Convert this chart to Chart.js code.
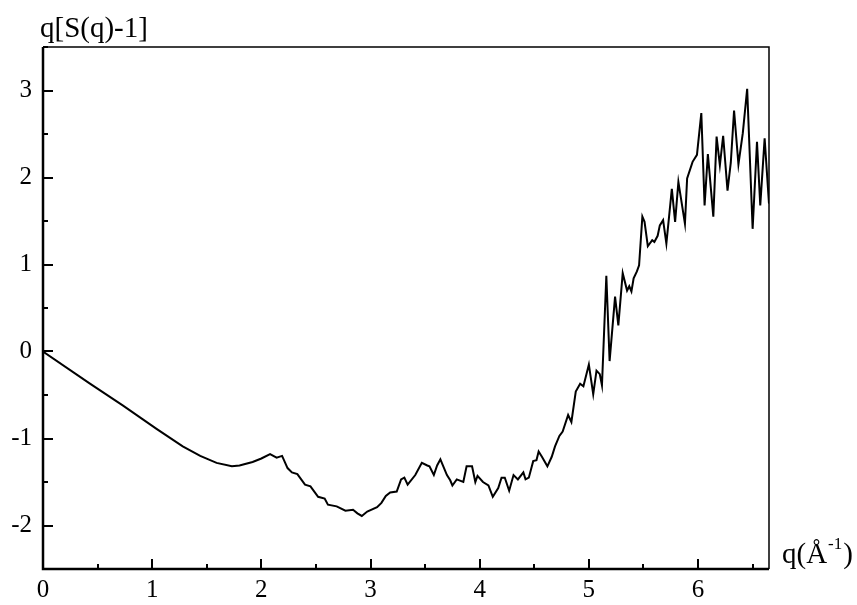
<!DOCTYPE html>
<html>
<head>
<meta charset="utf-8">
<script src="https://cdn.jsdelivr.net/npm/chart.js@4/dist/chart.umd.min.js"></script>
<style>
  body { margin: 0; background: #fff; }
  #wrap { width: 857px; height: 605px; }
</style>
</head>
<body>
<div id="wrap"><canvas id="c" width="857" height="605"></canvas></div>
<script>
const qValues = [
  0, 0.43, 0.73, 1.04, 1.28, 1.44, 1.59, 1.73, 1.80, 1.92,
  2.00, 2.08, 2.14, 2.19, 2.24, 2.28, 2.33, 2.40, 2.45, 2.52,
  2.58, 2.61, 2.69, 2.77, 2.84, 2.88, 2.92, 2.97, 3.06, 3.10,
  3.14, 3.18, 3.24, 3.28, 3.31, 3.34, 3.41, 3.47, 3.52, 3.54,
  3.58, 3.61, 3.64, 3.66, 3.70, 3.73, 3.75, 3.79, 3.85, 3.88,
  3.93, 3.96, 3.98, 4.03, 4.08, 4.12, 4.17, 4.20, 4.23, 4.27,
  4.31, 4.35, 4.40, 4.42, 4.45, 4.49, 4.52, 4.54, 4.57, 4.62,
  4.66, 4.69, 4.73, 4.76, 4.81, 4.84, 4.88, 4.92, 4.95, 5.00,
  5.04, 5.07, 5.10, 5.12, 5.16, 5.19, 5.24, 5.27, 5.31, 5.35,
  5.37, 5.39, 5.41, 5.44, 5.46, 5.49, 5.51, 5.54, 5.58, 5.60,
  5.63, 5.65, 5.68, 5.71, 5.76, 5.79, 5.82, 5.88, 5.90, 5.95,
  5.99, 6.03, 6.06, 6.09, 6.14, 6.17, 6.20, 6.23, 6.27, 6.30,
  6.33, 6.37, 6.41, 6.45, 6.50, 6.54, 6.57, 6.61, 6.65
]
const sValues = [
  0.00, -0.37, -0.62, -0.89, -1.09, -1.20, -1.28, -1.32, -1.31, -1.27,
  -1.23, -1.18, -1.22, -1.20, -1.34, -1.39, -1.41, -1.53, -1.55, -1.67,
  -1.69, -1.76, -1.78, -1.83, -1.82, -1.86, -1.89, -1.84, -1.79, -1.74,
  -1.66, -1.62, -1.61, -1.47, -1.45, -1.53, -1.42, -1.28, -1.31, -1.32,
  -1.42, -1.31, -1.24, -1.30, -1.42, -1.48, -1.54, -1.47, -1.50, -1.32,
  -1.32, -1.50, -1.43, -1.50, -1.54, -1.67, -1.57, -1.45, -1.45, -1.60,
  -1.42, -1.47, -1.39, -1.47, -1.45, -1.26, -1.25, -1.15, -1.21, -1.32,
  -1.21, -1.09, -0.97, -0.92, -0.73, -0.81, -0.46, -0.37, -0.40, -0.15,
  -0.49, -0.22, -0.26, -0.39, 0.87, -0.11, 0.63, 0.30, 0.90, 0.70,
  0.75, 0.69, 0.84, 0.92, 0.99, 1.55, 1.49, 1.21, 1.28, 1.26,
  1.33, 1.45, 1.51, 1.24, 1.87, 1.49, 1.95, 1.47, 1.99, 2.18,
  2.26, 2.74, 1.68, 2.27, 1.55, 2.47, 2.14, 2.48, 1.85, 2.17,
  2.77, 2.15, 2.51, 3.02, 1.41, 2.41, 1.68, 2.45, 1.70
]
const xTickLabels = ['0', '1', '2', '3', '4', '5', '6']
const yTickLabels = ['-2', '-1', '0', '1', '2', '3']
const yTitle = 'q[S(q)-1]'
const xTitle = 'q(Å'

const serif = '"Liberation Serif", "DejaVu Serif", serif'

const points = qValues.map((q, i) => ({ x: q, y: sValues[i] }))

const isWhole = (v) => Math.abs(v - Math.round(v)) < 1e-6

// inward ticks, frame and axis titles
const framePlugin = {
  id: 'frame',
  afterDraw(chart) {
    const ctx = chart.ctx
    const area = chart.chartArea
    const xs = chart.scales.x
    const ys = chart.scales.y
    ctx.save()
    ctx.strokeStyle = '#000'

    // frame
    ctx.lineWidth = 1.5
    ctx.beginPath()
    ctx.moveTo(area.left, area.top)
    ctx.lineTo(area.right, area.top)
    ctx.lineTo(area.right, area.bottom)
    ctx.stroke()
    ctx.lineWidth = 2.5
    ctx.beginPath()
    ctx.moveTo(area.left, area.top)
    ctx.lineTo(area.left, area.bottom)
    ctx.lineTo(area.right, area.bottom)
    ctx.stroke()

    // ticks pointing inward
    ctx.lineWidth = 2
    ctx.beginPath()
    xs.ticks.forEach(t => {
      const px = Math.round(xs.getPixelForValue(t.value))
      const len = isWhole(t.value) ? 10 : 5
      ctx.moveTo(px, area.bottom)
      ctx.lineTo(px, area.bottom - len)
    })
    ys.ticks.forEach(t => {
      const py = Math.round(ys.getPixelForValue(t.value))
      const len = isWhole(t.value) ? 10 : 5
      ctx.moveTo(area.left, py)
      ctx.lineTo(area.left + len, py)
    })
    ctx.stroke()

    // titles
    ctx.fillStyle = '#000'
    ctx.textBaseline = 'alphabetic'
    ctx.textAlign = 'left'
    ctx.font = '29px ' + serif
    ctx.fillText(yTitle, 40, 37)
    const xLeft = area.right + 13
    const base = area.bottom - 6
    ctx.fillText(xTitle, xLeft, base)
    let w = ctx.measureText(xTitle).width
    ctx.font = '17px ' + serif
    ctx.fillText('-1', xLeft + w + 1, base - 14)
    const w2 = ctx.measureText('-1').width
    ctx.font = '29px ' + serif
    ctx.fillText(')', xLeft + w + w2 + 2, base)
    ctx.restore()
  }
}

new Chart(document.getElementById('c'), {
  type: 'scatter',
  data: {
    datasets: [{
      data: points,
      showLine: true,
      borderColor: '#000',
      borderWidth: 2,
      pointRadius: 0,
      tension: 0,
      fill: false
    }]
  },
  options: {
    responsive: false,
    animation: false,
    layout: { padding: { top: 47, right: 88, left: 0, bottom: 0 } },
    plugins: {
      legend: { display: false },
      tooltip: { enabled: false }
    },
    scales: {
      x: {
        type: 'linear',
        min: 0,
        max: 6.65,
        afterFit: (s) => { s.height = 36 },
        border: { display: false },
        grid: { display: false },
        ticks: {
          stepSize: 0.5,
          includeBounds: false,
          maxRotation: 0,
          autoSkip: false,
          padding: -2,
          color: '#000',
          font: { family: serif, size: 25 },
          callback: (v) => isWhole(v) ? xTickLabels[Math.round(v)] : ''
        }
      },
      y: {
        type: 'linear',
        min: -2.5,
        max: 3.5,
        afterFit: (s) => { s.width = 43 },
        border: { display: false },
        grid: { display: false },
        ticks: {
          stepSize: 0.5,
          autoSkip: false,
          padding: 3,
          color: '#000',
          font: { family: serif, size: 25 },
          callback: (v) => isWhole(v) && v >= -2 && v <= 3 ? yTickLabels[Math.round(v) + 2] : ''
        }
      }
    }
  },
  plugins: [framePlugin]
})
</script>
</body>
</html>
